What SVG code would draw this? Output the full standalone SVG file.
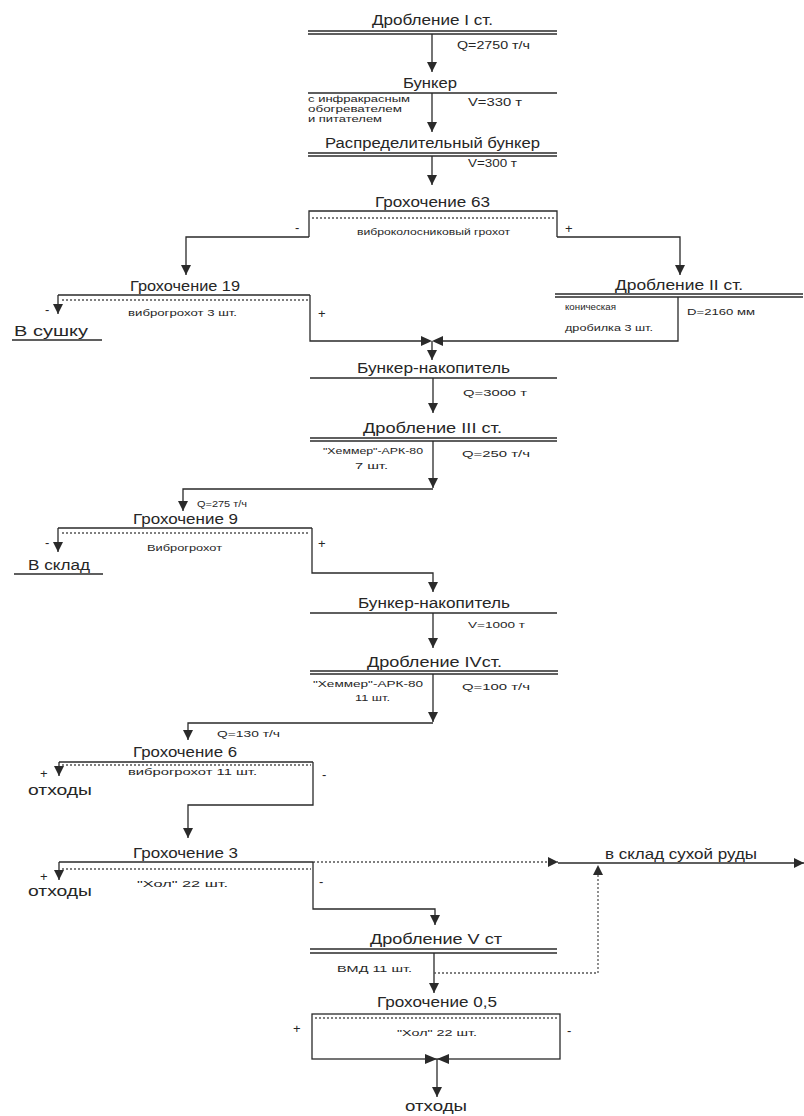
<svg xmlns="http://www.w3.org/2000/svg" width="804" height="1116" viewBox="0 0 804 1116">
<style>
text{font-family:"Liberation Sans","DejaVu Sans",sans-serif;fill:#262626}
.t{font-size:14px}
.s{font-size:9px}
.m{font-size:10px}
.g{font-size:13px}
.ln{stroke:#2a2a2a;stroke-width:1.3;fill:none}
.dt{stroke:#555;stroke-width:1.3;fill:none;stroke-dasharray:2 2}
.fl{fill:#2a2a2a}
</style>
<defs>
<marker id="ah" viewBox="0 0 10 10" refX="10" refY="5" markerWidth="10" markerHeight="10" markerUnits="userSpaceOnUse" orient="auto"><path d="M0,0 L10,5 L0,10 z" fill="#2a2a2a"/></marker>
</defs>
<rect width="804" height="1116" fill="#ffffff"/>

<g id="n-drob1">
<text class="t" x="372" y="25" textLength="121" lengthAdjust="spacingAndGlyphs">Дробление I ст.</text>
<line class="ln" x1="308" y1="31" x2="557" y2="31"/>
<line class="ln" x1="308" y1="34" x2="557" y2="34"/>
<text class="m" x="457" y="49" textLength="73" lengthAdjust="spacingAndGlyphs">Q=2750 т/ч</text>
</g>

<g id="n-bunker">
<text class="t" x="403" y="88" textLength="54" lengthAdjust="spacingAndGlyphs">Бункер</text>
<line class="ln" x1="308" y1="93" x2="557" y2="93"/>
<text class="s" x="308" y="102" textLength="102" lengthAdjust="spacingAndGlyphs">с инфракрасным</text>
<text class="s" x="308" y="112" textLength="94" lengthAdjust="spacingAndGlyphs">обогревателем</text>
<text class="s" x="308" y="122" textLength="74" lengthAdjust="spacingAndGlyphs">и питателем</text>
<text class="m" x="468" y="106" textLength="54" lengthAdjust="spacingAndGlyphs">V=330 т</text>
</g>

<g id="n-raspred">
<text class="t" x="325" y="148" textLength="215" lengthAdjust="spacingAndGlyphs">Распределительный бункер</text>
<line class="ln" x1="308" y1="153" x2="557" y2="153"/>
<line class="ln" x1="308" y1="156" x2="557" y2="156"/>
<text class="m" x="468" y="167" textLength="49" lengthAdjust="spacingAndGlyphs">V=300 т</text>
</g>

<g id="n-groh63">
<text class="t" x="375" y="207" textLength="115" lengthAdjust="spacingAndGlyphs">Грохочение 63</text>
<polyline class="ln" points="309,237 309,211 557,211 557,237"/>
<line class="dt" x1="312" y1="218" x2="554" y2="218"/>
<text class="s" x="357" y="235" textLength="153" lengthAdjust="spacingAndGlyphs">виброколосниковый грохот</text>
<text class="g" x="295" y="232">-</text>
<text class="g" x="565" y="233">+</text>
</g>

<g id="n-groh19">
<text class="t" x="130" y="291" textLength="110" lengthAdjust="spacingAndGlyphs">Грохочение 19</text>
<line class="ln" x1="58" y1="295" x2="310" y2="295"/>
<line class="dt" x1="62" y1="300" x2="308" y2="300"/>
<text class="s" x="128" y="316" textLength="109" lengthAdjust="spacingAndGlyphs">виброгрохот 3 шт.</text>
<text class="g" x="45" y="314">-</text>
<text class="g" x="318" y="318">+</text>
</g>

<g id="n-sushka">
<text class="t" x="14" y="336" textLength="74" lengthAdjust="spacingAndGlyphs">В сушку</text>
<line class="ln" x1="12" y1="340" x2="102" y2="340"/>
</g>

<g id="n-drob2">
<text class="t" x="615" y="290" textLength="128" lengthAdjust="spacingAndGlyphs">Дробление II ст.</text>
<line class="ln" x1="555" y1="294" x2="803" y2="294"/>
<line class="ln" x1="555" y1="297" x2="803" y2="297"/>
<text class="s" x="565" y="310" textLength="51" lengthAdjust="spacingAndGlyphs">коническая</text>
<text class="s" x="565" y="331" textLength="88" lengthAdjust="spacingAndGlyphs">дробилка 3 шт.</text>
<text class="s" x="687" y="315" textLength="68" lengthAdjust="spacingAndGlyphs">D=2160 мм</text>
</g>

<g id="n-nakop1">
<text class="t" x="357" y="373" textLength="153" lengthAdjust="spacingAndGlyphs">Бункер-накопитель</text>
<line class="ln" x1="310" y1="378" x2="557" y2="378"/>
<text class="s" x="463" y="396" textLength="64" lengthAdjust="spacingAndGlyphs">Q=3000 т</text>
</g>

<g id="n-drob3">
<text class="t" x="363" y="433" textLength="139" lengthAdjust="spacingAndGlyphs">Дробление III ст.</text>
<line class="ln" x1="310" y1="438" x2="557" y2="438"/>
<line class="ln" x1="310" y1="441" x2="557" y2="441"/>
<text class="s" x="323" y="454" textLength="100" lengthAdjust="spacingAndGlyphs">"Хеммер"-АРК-80</text>
<text class="s" x="355" y="469" textLength="33" lengthAdjust="spacingAndGlyphs">7 шт.</text>
<text class="s" x="462" y="457" textLength="68" lengthAdjust="spacingAndGlyphs">Q=250 т/ч</text>
</g>

<g id="n-groh9">
<text class="s" x="197" y="507" textLength="50" lengthAdjust="spacingAndGlyphs">Q=275 т/ч</text>
<text class="t" x="133" y="524" textLength="105" lengthAdjust="spacingAndGlyphs">Грохочение 9</text>
<line class="ln" x1="58" y1="528" x2="312" y2="528"/>
<line class="dt" x1="62" y1="533" x2="310" y2="533"/>
<text class="s" x="147" y="551" textLength="75" lengthAdjust="spacingAndGlyphs">Виброгрохот</text>
<text class="g" x="45" y="547">-</text>
<text class="g" x="318" y="548">+</text>
</g>

<g id="n-sklad">
<text class="t" x="28" y="570" textLength="62" lengthAdjust="spacingAndGlyphs">В склад</text>
<line class="ln" x1="14" y1="574" x2="103" y2="574"/>
</g>

<g id="n-nakop2">
<text class="t" x="358" y="608" textLength="152" lengthAdjust="spacingAndGlyphs">Бункер-накопитель</text>
<line class="ln" x1="310" y1="613" x2="557" y2="613"/>
<text class="s" x="468" y="628" textLength="57" lengthAdjust="spacingAndGlyphs">V=1000 т</text>
</g>

<g id="n-drob4">
<text class="t" x="367" y="667" textLength="135" lengthAdjust="spacingAndGlyphs">Дробление  IVст.</text>
<line class="ln" x1="310" y1="671" x2="558" y2="671"/>
<line class="ln" x1="310" y1="674" x2="558" y2="674"/>
<text class="s" x="313" y="687" textLength="110" lengthAdjust="spacingAndGlyphs">"Хеммер"-АРК-80</text>
<text class="s" x="355" y="701" textLength="35" lengthAdjust="spacingAndGlyphs">11 шт.</text>
<text class="s" x="462" y="690" textLength="68" lengthAdjust="spacingAndGlyphs">Q=100 т/ч</text>
</g>

<g id="n-groh6">
<text class="s" x="217" y="737" textLength="63" lengthAdjust="spacingAndGlyphs">Q=130 т/ч</text>
<text class="t" x="133" y="757" textLength="104" lengthAdjust="spacingAndGlyphs">Грохочение 6</text>
<line class="ln" x1="59" y1="762" x2="313" y2="762"/>
<line class="dt" x1="62" y1="765" x2="311" y2="765"/>
<text class="s" x="128" y="775" textLength="129" lengthAdjust="spacingAndGlyphs">виброгрохот 11 шт.</text>
<text class="g" x="40" y="778">+</text>
<text class="g" x="322" y="779">-</text>
<text class="t" x="28" y="795" textLength="64" lengthAdjust="spacingAndGlyphs">отходы</text>
</g>

<g id="n-groh3">
<text class="t" x="133" y="858" textLength="105" lengthAdjust="spacingAndGlyphs">Грохочение 3</text>
<line class="ln" x1="59" y1="862" x2="313" y2="862"/>
<line class="dt" x1="62" y1="869" x2="311" y2="869"/>
<text class="s" x="137" y="887" textLength="91" lengthAdjust="spacingAndGlyphs">"Хол" 22 шт.</text>
<text class="g" x="40" y="881">+</text>
<text class="g" x="319" y="886">-</text>
<text class="t" x="28" y="896" textLength="64" lengthAdjust="spacingAndGlyphs">отходы</text>
</g>

<g id="n-suhoi">
<text class="t" x="605" y="859" textLength="152" lengthAdjust="spacingAndGlyphs">в склад сухой руды</text>
</g>

<g id="n-drob5">
<text class="t" x="370" y="944" textLength="132" lengthAdjust="spacingAndGlyphs">Дробление V ст</text>
<line class="ln" x1="310" y1="949" x2="557" y2="949"/>
<line class="ln" x1="310" y1="953" x2="557" y2="953"/>
<text class="s" x="337" y="972" textLength="75" lengthAdjust="spacingAndGlyphs">ВМД 11 шт.</text>
</g>

<g id="n-groh05">
<text class="t" x="377" y="1007" textLength="120" lengthAdjust="spacingAndGlyphs">Грохочение 0,5</text>
<rect class="ln" x="312" y="1014" width="248" height="45"/>
<line class="dt" x1="315" y1="1018" x2="557" y2="1018"/>
<text class="s" x="397" y="1036" textLength="80" lengthAdjust="spacingAndGlyphs">"Хол" 22 шт.</text>
<text class="g" x="293" y="1033">+</text>
<text class="g" x="567" y="1035">-</text>
<text class="t" x="405" y="1111" textLength="62" lengthAdjust="spacingAndGlyphs">отходы</text>
</g>

<g id="connectors">
<line class="ln" x1="432" y1="34" x2="432" y2="72" marker-end="url(#ah)"/>
<line class="ln" x1="432" y1="93" x2="432" y2="132" marker-end="url(#ah)"/>
<line class="ln" x1="432" y1="156" x2="432" y2="185" marker-end="url(#ah)"/>
<polyline class="ln" points="309,237 186,237 186,275" marker-end="url(#ah)"/>
<polyline class="ln" points="557,237 680,237 680,275" marker-end="url(#ah)"/>
<line class="ln" x1="58" y1="295" x2="58" y2="314" marker-end="url(#ah)"/>
<polyline class="ln" points="310,295 310,341 421,341"/>
<polyline class="ln" points="678,297 678,341 443,341"/>
<path class="fl" d="M421,336 L421,346 L432,341 z M443,336 L443,346 L432,341 z"/>
<line class="ln" x1="432" y1="341" x2="432" y2="360" marker-end="url(#ah)"/>
<line class="ln" x1="433" y1="378" x2="433" y2="413" marker-end="url(#ah)"/>
<line class="ln" x1="433" y1="441" x2="433" y2="488" marker-end="url(#ah)"/>
<polyline class="ln" points="433,489 183,489 183,511" marker-end="url(#ah)"/>
<line class="ln" x1="58" y1="528" x2="58" y2="552" marker-end="url(#ah)"/>
<polyline class="ln" points="312,528 312,573 433,573 433,592" marker-end="url(#ah)"/>
<line class="ln" x1="433" y1="613" x2="433" y2="648" marker-end="url(#ah)"/>
<line class="ln" x1="433" y1="674" x2="433" y2="722" marker-end="url(#ah)"/>
<polyline class="ln" points="433,723 188,723 188,740" marker-end="url(#ah)"/>
<line class="ln" x1="59" y1="762" x2="59" y2="776" marker-end="url(#ah)"/>
<polyline class="ln" points="313,762 313,805 188,805 188,838" marker-end="url(#ah)"/>
<line class="ln" x1="59" y1="862" x2="59" y2="880" marker-end="url(#ah)"/>
<line class="dt" x1="313" y1="862" x2="558" y2="862" marker-end="url(#ah)"/>
<line class="ln" x1="558" y1="863" x2="804" y2="863" marker-end="url(#ah)"/>
<polyline class="ln" points="313,862 313,909 435,909 435,925" marker-end="url(#ah)"/>
<line class="ln" x1="434" y1="953" x2="434" y2="993" marker-end="url(#ah)"/>
<polyline class="dt" points="434,973 598,973 598,865" marker-end="url(#ah)"/>
<path class="fl" d="M425,1054 L425,1064 L437,1059 z M449,1054 L449,1064 L437,1059 z"/>
<line class="ln" x1="437" y1="1059" x2="437" y2="1097" marker-end="url(#ah)"/>
</g>
</svg>
